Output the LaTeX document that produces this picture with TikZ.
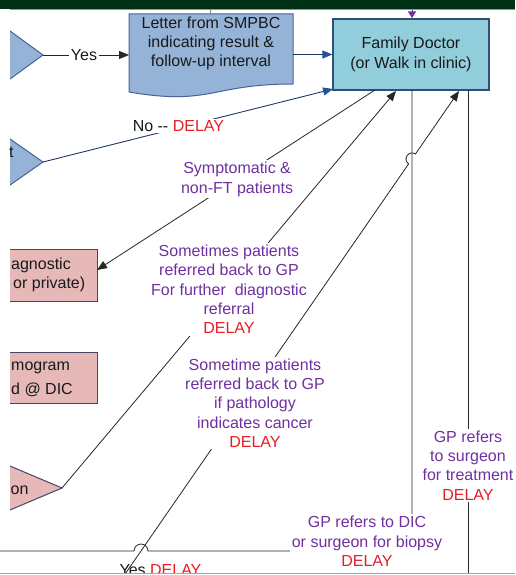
\documentclass[tikz,border=0pt]{standalone}
\usepackage{fontspec}
\setmainfont{Liberation Sans}
\usetikzlibrary{arrows.meta,calc}

\definecolor{band}{RGB}{0,48,20}
\definecolor{bandline}{RGB}{128,160,140}
\definecolor{fdfill}{RGB}{146,205,220}
\definecolor{fdline}{RGB}{47,78,120}
\definecolor{docfill}{RGB}{149,179,215}
\definecolor{docline}{RGB}{70,100,145}
\definecolor{pinkfill}{RGB}{230,185,184}
\definecolor{pinkline}{RGB}{70,70,100}
\definecolor{navy}{RGB}{31,56,100}
\definecolor{tipblue}{RGB}{40,80,150}
\definecolor{lblpurple}{RGB}{112,48,160}
\definecolor{delayred}{RGB}{230,30,40}
\definecolor{inkgray}{RGB}{25,25,25}

\newcommand{\dly}{\textcolor{delayred}{DELAY}}

\begin{document}
\begin{tikzpicture}[x=1pt,y=-1pt,
  every node/.style={font=\fontsize{16}{19.3}\selectfont, text=inkgray},
  fdbox/.style={draw=fdline, fill=fdfill, line width=1.2pt, minimum width=156pt,
    minimum height=71pt, align=center, inner sep=0pt},
  bluebox/.style={draw=docline, fill=docfill, line width=1pt},
  pinkbox/.style={draw=pinkline, fill=pinkfill, line width=1pt},
  flow/.style={draw=black!85, line width=0.8pt},
  navyflow/.style={draw=navy, line width=0.9pt},
  tipk/.style={-{Triangle[length=10pt,width=8pt]}},
  tipb/.style={-{Triangle[length=10pt,width=8pt,color=tipblue]}},
  lbl/.style={fill=white, text=lblpurple, align=center, inner sep=2pt},
  cut/.style={anchor=base west, inner sep=0pt}
]
\useasboundingbox (0,0) rectangle (515,575);
\begin{scope}
\clip (0,0) rectangle (515,575);
\fill[white] (0,0) rectangle (515,575);

% ---- shapes on the left edge (cut at x = 10) ----
\begin{scope}
  \clip (10,0) rectangle (515,575);
  \draw[bluebox] (0,23.7) -- (43,55) -- (0,86.3) -- cycle;
  \draw[bluebox] (0,132) -- (43,162) -- (0,192) -- cycle;
  \node[pinkbox, minimum width=97pt, minimum height=52pt, anchor=north west,
        inner sep=0pt] (diag) at (0,249) {};
  \node[pinkbox, minimum width=97pt, minimum height=51pt, anchor=north west,
        inner sep=0pt] (mammo) at (0,352) {};
  \draw[pinkbox] (0,461.8) -- (62,488) -- (0,514.2) -- cycle;
  \node[cut] at (11,269.5) {agnostic};
  \node[cut] at (13,288.5) {or private)};
  \node[cut] at (11,370.5) {mogram};
  \node[cut] at (11,394) {d @ DIC};
  \node[cut] at (10.5,494) {on};
\end{scope}
\node[cut] at (9,157.5) {t};

% ---- letter (document shape) ----
\draw[bluebox] (129,14) -- (293,14) -- (293,84)
  .. controls (211,84) and (211,106) .. (129,92) -- cycle;
\node[align=center, inner sep=0pt] (letter) at (211,43.5)
  {Letter from SMPBC\\indicating result \&\\follow-up interval};

% ---- family doctor ----
\node[fdbox] (fd) at (411,54.5) {Family Doctor\\(or Walk in clinic)};

% ---- named ends of the connectors ----
\coordinate (tri1tip) at (43,55);
\coordinate (tri2tip) at (43,162);
\coordinate (pinktip) at (62,488);
\coordinate (letterL) at (129,55);
\coordinate (letterR) at (293,54.5);
\coordinate (letterTop) at (210,14);
\coordinate (bandFoot) at (210,9);
\coordinate (fdNo) at (333,89);
\coordinate (fdA) at (375,90);
\coordinate (fdB) at (396,91);
\coordinate (fdD) at (412,90);
\coordinate (fdC) at (459,91);
\coordinate (fdE) at (468,90);
\coordinate (fdTop) at (412,18);
\coordinate (fdFeed) at (412,0);
\coordinate (diagIn) at (97,270);
\coordinate (cStart) at (107.1,600);
\coordinate (hopLo) at (408.6,163.9);
\coordinate (dCorner) at (412,551);
\coordinate (hopR) at (148,551);
\coordinate (cLeft) at (-5,551);
\coordinate (eEnd) at (468,600);

% ---- connectors ----
\draw[flow, tipk] (tri1tip) --
  node[pos=0.477, fill=white, inner sep=1.5pt] {Yes} (letterL);
\draw[navyflow, tipb] (letterR) -- (fd.west);
\draw[navyflow, tipb] (tri2tip) --
  node[pos=0.467, yshift=2pt, fill=white, inner sep=1.5pt] {No -{}- \dly} (fdNo);
\draw[flow, draw=gray] (bandFoot) -- (letterTop);
\draw[draw=lblpurple, line width=0.8pt,
      -{Triangle[length=6.5pt,width=8pt]}] (fdFeed) -- (fdTop);

\draw[flow, tipk] (fdA) --
  node[lbl, pos=0.496] {Symptomatic \&\\non-FT patients} (diagIn);
\draw[flow, tipk] (pinktip) --
  node[lbl, pos=0.5] {Sometimes patients\\referred back to GP\\For further\ \ diagnostic\\referral\\\dly} (fdB);
\draw[flow, tipk] (cStart) -- (hopLo)
  arc[start angle=124.7, end angle=304.7, radius=6] -- (fdC);
\draw[flow] (fdD) -- (dCorner) -- (hopR)
  arc[start angle=0, end angle=-180, radius=7] -- (cLeft);
\draw[flow] (fdE) -- (eEnd);

% ---- labels sitting on the connectors ----
\node[lbl] (lblC) at (255,403)
  {Sometime patients\\referred back to GP\\if pathology\\indicates cancer\\\dly};
\node[lbl] (lblD) at (367,541.5)
  {GP refers to DIC\\or surgeon for biopsy\\\dly};
\node[lbl, inner sep=1.5pt] (lblE) at (468,465.5)
  {GP refers\\to surgeon\\for treatment\\\dly};
\node[anchor=base, inner sep=0pt] (yesd) at (160.5,575.5) {Yes \dly};

% ---- frame ----
\fill[band] (0,0) rectangle (515,9);
\draw[bandline, line width=1.2pt] (10,9.7) -- (515,9.7);
\fill[white] (0,574) rectangle (515,576);
\draw[gray!70, line width=1pt] (0,573.5) -- (515,573.5);
\end{scope}
\end{tikzpicture}
\end{document}
